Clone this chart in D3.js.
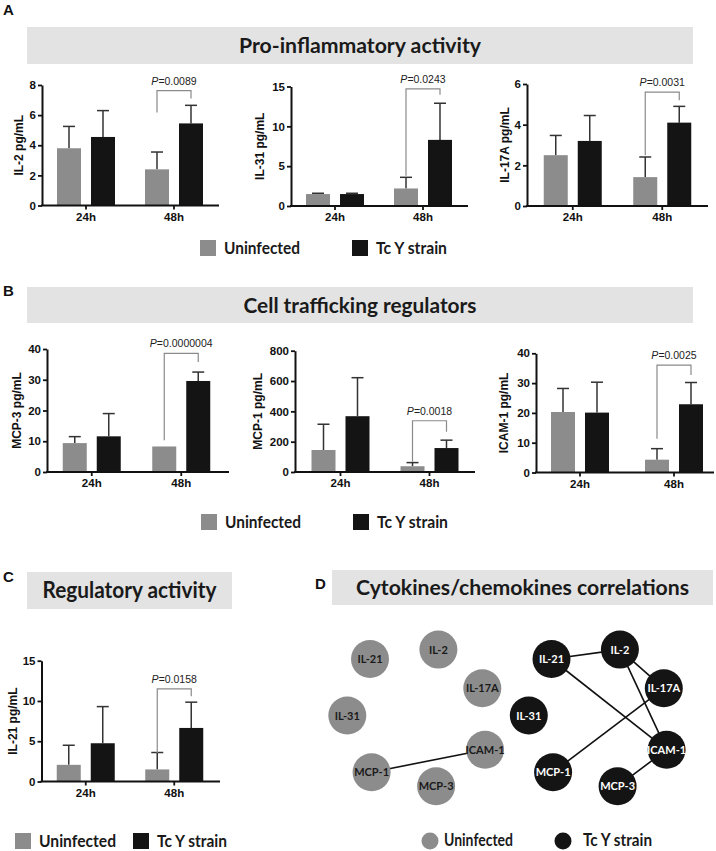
<!DOCTYPE html>
<html><head><meta charset="utf-8">
<script src="https://cdn.jsdelivr.net/npm/d3@7"></script>
<style>body{margin:0;background:#fff;} svg{display:block;}</style>
</head><body><svg id="c" width="716" height="851"></svg>
<script>
// ---------- DATA ----------
const times = ["24h", "48h"];
const groups = ["Uninfected", "Tc Y strain"];

// Panel A: Pro-inflammatory activity
const il2Uninf = [3.8, 2.4],  il2UninfErr = [5.25, 3.55], il2Tc = [4.55, 5.45], il2TcErr = [6.3, 6.65];
const il31Uninf = [1.5, 2.2], il31UninfErr = [1.6, 3.6],  il31Tc = [1.5, 8.3],  il31TcErr = [1.6, 12.9];
const il17Uninf = [2.5, 1.42], il17UninfErr = [3.47, 2.41], il17Tc = [3.2, 4.1], il17TcErr = [4.45, 4.9];
// Panel B: Cell trafficking regulators
const mcp3Uninf = [9.4, 8.3], mcp3UninfErr = [11.5, 8.3], mcp3Tc = [11.6, 29.6], mcp3TcErr = [19, 32.5];
const mcp1Uninf = [145, 38], mcp1UninfErr = [315, 62], mcp1Tc = [368, 158], mcp1TcErr = [622, 210];
const icamUninf = [20.3, 4.3], icamUninfErr = [28.2, 8.0], icamTc = [20.1, 22.9], icamTcErr = [30.3, 30.2];
// Panel C: Regulatory activity
const il21Uninf = [2.07, 1.5], il21UninfErr = [4.5, 3.6], il21Tc = [4.75, 6.65], il21TcErr = [9.3, 9.85];

// y tick labels
const ticksIL2 = [0, 2, 4, 6, 8];
const ticksIL31 = [0, 5, 10, 15];
const ticksIL17 = [0, 2, 4, 6];
const ticksMCP3 = [0, 10, 20, 30, 40];
const ticksMCP1 = [0, 200, 400, 600, 800];
const ticksICAM = [0, 10, 20, 30, 40];
const ticksIL21 = [0, 5, 10, 15];

// p-values (48h comparison) and bracket heights [top, left leg end, right leg end] in data units
const pIL2 = "0.0089",   brIL2 = [7.63, 6.17, 7.1];
const pIL31 = "0.0243",  brIL31 = [14.7, 3.8, 13.95];
const pIL17 = "0.0031",  brIL17 = [5.6, 2.5, 5.2];
const pMCP3 = "0.0000004", brMCP3 = [38.6, 10.3, 35.8];
const pMCP1 = "0.0018",  brMCP1 = [338, 68, 266];
const pICAM = "0.0025",  brICAM = [36, 11.3, 32.7];
const pIL21 = "0.0158",  brIL21 = [11.5, 3.55, 10.6];

// Panel D: correlation networks
const nodeNames = ["IL-21", "IL-2", "IL-17A", "IL-31", "ICAM-1", "MCP-1", "MCP-3"];
const uninfEdges = [["MCP-1", "ICAM-1"]];
const tcEdges = [["IL-21", "IL-2"], ["IL-21", "ICAM-1"], ["IL-2", "IL-17A"], ["IL-2", "ICAM-1"], ["IL-17A", "MCP-1"], ["ICAM-1", "MCP-3"]];

// ---------- STYLE / LAYOUT ----------
const GRAY = "#8c8c8c", BLACK = "#141414", BOX = "#e3e3e3";
const AX_FONT = "'Liberation Sans', Arial, sans-serif";
const TI_FONT = "Lato, 'Open Sans', sans-serif";
const svg = d3.select("#c");

// node layout (relative units) for the network diagram
const nodeLayoutX = [30, 98.4, 142.3, 7.3, 145.1, 31.6, 96.1];
const nodeLayoutY = [19, 9.6, 48.3, 75.5, 109.7, 132.2, 146.3];

function panelLetter(t, x, y) {
  svg.append("text").attr("x", x).attr("y", y).text(t)
    .attr("font-family", AX_FONT).attr("font-weight", "bold").attr("font-size", 15).attr("fill", "#111");
}
function titleBox(t, x0, x1, y0, y1, tl, fs) {
  svg.append("rect").attr("x", x0).attr("y", y0).attr("width", x1 - x0).attr("height", y1 - y0).attr("fill", BOX);
  svg.append("text").attr("x", (x0 + x1) / 2).attr("y", (y0 + y1) / 2 + fs * 0.36)
    .attr("text-anchor", "middle").attr("font-family", TI_FONT).attr("font-weight", 700)
    .attr("font-size", fs).attr("fill", "#1a1a1a")
    .attr("textLength", tl).attr("lengthAdjust", "spacingAndGlyphs").text(t);
}
function legend(shape, x1, x2, cy, w1, w2, fs) {
  const g = svg.append("g");
  const items = [{c: GRAY, x: x1, w: w1, t: groups[0]}, {c: BLACK, x: x2, w: w2, t: groups[1]}];
  items.forEach(it => {
    if (shape === "square") {
      g.append("rect").attr("x", it.x).attr("y", cy - 8).attr("width", 16).attr("height", 16).attr("fill", it.c);
      g.append("text").attr("x", it.x + 24).attr("y", cy + 6).text(it.t)
        .attr("font-family", TI_FONT).attr("font-weight", 700).attr("font-size", fs).attr("fill", "#1a1a1a")
        .attr("textLength", it.w).attr("lengthAdjust", "spacingAndGlyphs");
    } else {
      g.append("circle").attr("cx", it.x + 8).attr("cy", cy).attr("r", 8.5).attr("fill", it.c);
      g.append("text").attr("x", it.x + (it.c === GRAY ? 22 : 28)).attr("y", cy + 5).text(it.t)
        .attr("font-family", TI_FONT).attr("font-weight", 700).attr("font-size", fs).attr("fill", "#1a1a1a")
        .attr("textLength", it.w).attr("lengthAdjust", "spacingAndGlyphs");
    }
  });
}

function barChart(s) {
  const g = svg.append("g");
  const x = d3.scaleBand().domain(times).range([s.r0, s.r1]);
  const xi = d3.scaleBand().domain(groups).range([-29, 29]).paddingInner(0.294);
  const y = d3.scaleLinear().domain([0, s.max]).range([s.y0, s.yTop]);
  const cx = t => x(t) + x.bandwidth() / 2;
  const rows = [];
  times.forEach((t, i) => {
    rows.push({t, grp: groups[0], v: s.u[i], e: s.ue[i], c: GRAY});
    rows.push({t, grp: groups[1], v: s.c[i], e: s.ce[i], c: BLACK});
  });
  // error bars
  rows.forEach(r => {
    const xc = cx(r.t) + xi(r.grp) + xi.bandwidth() / 2;
    if (r.e > r.v) {
      g.append("line").attr("x1", xc).attr("x2", xc).attr("y1", y(r.v)).attr("y2", y(r.e))
        .attr("stroke", "#333").attr("stroke-width", 1.5);
      g.append("line").attr("x1", xc - 6).attr("x2", xc + 6).attr("y1", y(r.e)).attr("y2", y(r.e))
        .attr("stroke", "#333").attr("stroke-width", 1.5);
    }
  });
  // bars
  g.selectAll("rect.bar").data(rows).join("rect").attr("class", "bar")
    .attr("x", r => cx(r.t) + xi(r.grp)).attr("width", xi.bandwidth())
    .attr("y", r => y(r.v)).attr("height", r => y(0) - y(r.v)).attr("fill", r => r.c);
  // y axis
  const ya = g.append("g").attr("transform", `translate(${s.ax},0)`)
    .call(d3.axisLeft(y).tickValues(s.ticks).tickFormat(d3.format("d")).tickSize(4).tickSizeOuter(0).tickPadding(2));
  ya.select(".domain").attr("stroke", "#111").attr("stroke-width", 2);
  ya.selectAll(".tick line").attr("stroke", "#111").attr("stroke-width", 1.8);
  ya.selectAll(".tick text").attr("font-family", AX_FONT).attr("font-weight", "bold").attr("font-size", 11.5).attr("fill", "#111");
  // x axis
  const xa = g.append("g").attr("transform", `translate(0,${s.y0})`)
    .call(d3.axisBottom(x).tickSize(4).tickSizeOuter(0).tickPadding(3));
  xa.select(".domain").remove();
  xa.selectAll(".tick line").attr("stroke", "#111").attr("stroke-width", 1.8);
  xa.selectAll(".tick text").attr("font-family", AX_FONT).attr("font-weight", "bold").attr("font-size", 11.5).attr("fill", "#111");
  g.append("line").attr("x1", s.ax - 1).attr("x2", s.xEnd).attr("y1", s.y0).attr("y2", s.y0)
    .attr("stroke", "#111").attr("stroke-width", 2);
  // y label
  g.append("text").attr("transform", `translate(${s.lx},${(s.y0 + y(s.max)) / 2}) rotate(-90)`)
    .attr("text-anchor", "middle").attr("font-family", AX_FONT).attr("font-weight", "bold")
    .attr("font-size", 12).attr("fill", "#111").text(s.label);
  // p-value bracket (48h)
  const xl = cx("48h") + xi(groups[0]) + xi.bandwidth() / 2;
  const xr = cx("48h") + xi(groups[1]) + xi.bandwidth() / 2;
  g.append("path").attr("d", `M${xl},${y(s.br[1])}V${y(s.br[0])}H${xr}V${y(s.br[2])}`)
    .attr("fill", "none").attr("stroke", "#8a8a8a").attr("stroke-width", 1.2);
  const pt = g.append("text").attr("x", (xl + xr) / 2).attr("y", y(s.br[0]) - 6)
    .attr("text-anchor", "middle").attr("font-family", AX_FONT).attr("font-size", 10.5).attr("fill", "#222");
  pt.append("tspan").attr("font-style", "italic").text("P");
  pt.append("tspan").text("=" + s.p);
}

// ---------- PANEL A ----------
panelLetter("A", 3, 15);
titleBox("Pro-inflammatory activity", 27, 693, 27, 64, 242, 21);
barChart({u: il2Uninf, ue: il2UninfErr, c: il2Tc, ce: il2TcErr, max: 8, ticks: ticksIL2, label: "IL-2 pg/mL", p: pIL2, br: brIL2,
  ax: 42, r0: 42, r1: 218, xEnd: 219, y0: 205.5, yTop: 85, lx: 23});
barChart({u: il31Uninf, ue: il31UninfErr, c: il31Tc, ce: il31TcErr, max: 15, ticks: ticksIL31, label: "IL-31 pg/mL", p: pIL31, br: brIL31,
  ax: 291, r0: 291, r1: 467, xEnd: 468, y0: 206, yTop: 86.5, lx: 264});
barChart({u: il17Uninf, ue: il17UninfErr, c: il17Tc, ce: il17TcErr, max: 6, ticks: ticksIL17, label: "IL-17A pg/mL", p: pIL17, br: brIL17,
  ax: 527, r0: 528, r1: 707, xEnd: 708, y0: 206, yTop: 84, lx: 509});
legend("square", 200, 352, 248, 76, 71, 17);

// ---------- PANEL B ----------
panelLetter("B", 3, 296);
titleBox("Cell trafficking regulators", 27, 693, 287, 323, 233, 21);
barChart({u: mcp3Uninf, ue: mcp3UninfErr, c: mcp3Tc, ce: mcp3TcErr, max: 40, ticks: ticksMCP3, label: "MCP-3 pg/mL", p: pMCP3, br: brMCP3,
  ax: 47, r0: 47, r1: 226, xEnd: 229, y0: 472, yTop: 349, lx: 21});
barChart({u: mcp1Uninf, ue: mcp1UninfErr, c: mcp1Tc, ce: mcp1TcErr, max: 800, ticks: ticksMCP1, label: "MCP-1 pg/mL", p: pMCP1, br: brMCP1,
  ax: 295, r0: 296, r1: 474, xEnd: 475, y0: 472, yTop: 350.7, lx: 262});
barChart({u: icamUninf, ue: icamUninfErr, c: icamTc, ce: icamTcErr, max: 40, ticks: ticksICAM, label: "ICAM-1 pg/mL", p: pICAM, br: brICAM,
  ax: 536, r0: 533, r1: 721, xEnd: 714, y0: 472.5, yTop: 353.3, lx: 508});
legend("square", 201, 353, 522, 76, 71, 17);

// ---------- PANEL C ----------
panelLetter("C", 3, 582);
titleBox("Regulatory activity", 27, 232, 572, 609, 174, 22);
barChart({u: il21Uninf, ue: il21UninfErr, c: il21Tc, ce: il21TcErr, max: 15, ticks: ticksIL21, label: "IL-21 pg/mL", p: pIL21, br: brIL21,
  ax: 41.5, r0: 41.5, r1: 218.5, xEnd: 220, y0: 781.5, yTop: 660.7, lx: 17});
legend("square", 15, 133, 841, 77, 70, 17);

// ---------- PANEL D ----------
panelLetter("D", 315, 589);
titleBox("Cytokines/chemokines correlations", 332, 713, 570, 605, 333, 21);
function network(offsetX, fill, textFill, edges) {
  const g = svg.append("g");
  const sx = d3.scaleLinear().domain([0, 1]).range([offsetX, offsetX + 1]);
  const sy = d3.scaleLinear().domain([0, 1]).range([640, 641]);
  const pos = {};
  nodeNames.forEach((n, i) => pos[n] = [sx(nodeLayoutX[i]), sy(nodeLayoutY[i])]);
  g.selectAll("line").data(edges).join("line")
    .attr("x1", e => pos[e[0]][0]).attr("y1", e => pos[e[0]][1])
    .attr("x2", e => pos[e[1]][0]).attr("y2", e => pos[e[1]][1])
    .attr("stroke", "#111").attr("stroke-width", 1.6);
  const ng = g.selectAll("g.node").data(nodeNames).join("g").attr("class", "node")
    .attr("transform", n => `translate(${pos[n][0]},${pos[n][1]})`);
  ng.append("circle").attr("r", 19).attr("fill", fill);
  ng.append("text").attr("text-anchor", "middle").attr("y", 4).text(n => n)
    .attr("font-family", TI_FONT).attr("font-weight", 700).attr("font-size", 11).attr("fill", textFill);
}
network(340, GRAY, "#1a1a1a", uninfEdges);
network(521.5, BLACK, "#ffffff", tcEdges);
legend("circle", 422, 555, 841, 69, 69, 16.5);
</script>
</body></html>
